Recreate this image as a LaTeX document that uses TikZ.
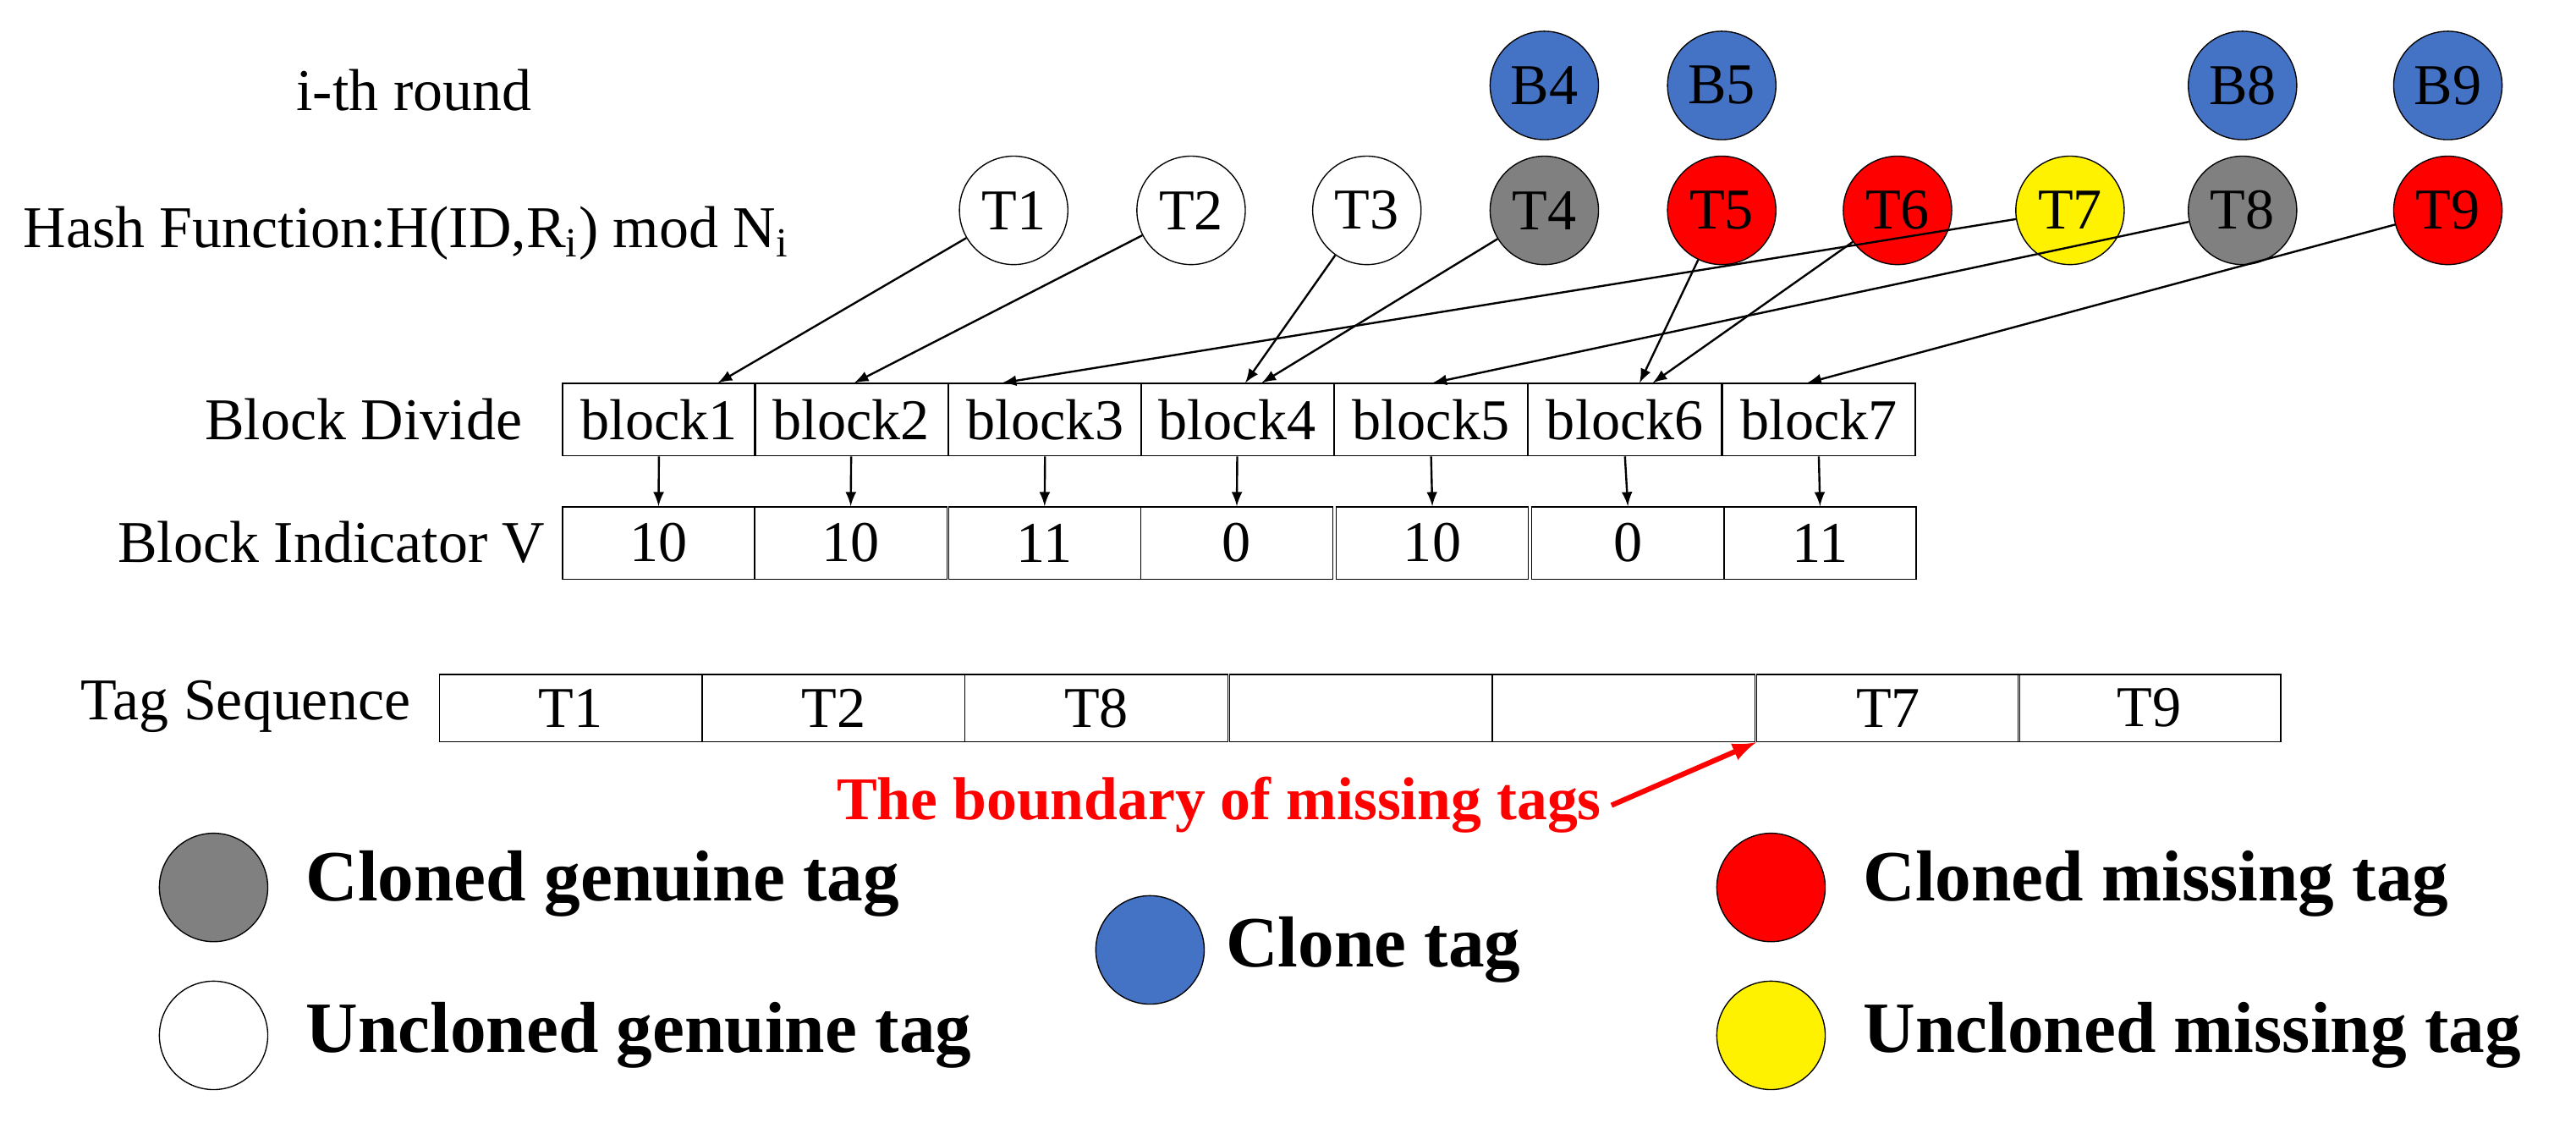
\documentclass[tikz,border=0pt]{standalone}
\usepackage{fontspec}
\setmainfont{Liberation Serif}
\begin{document}
\begin{tikzpicture}[x=0.02cm,y=-0.02cm,
 tag/.style={circle,draw,minimum size=1.32cm,inner sep=0pt,font=\fontsize{20}{22}\selectfont},
 cell/.style={draw,minimum height=0.88cm,inner sep=0pt,font=\fontsize{20}{22}\selectfont},
 lab/.style={font=\fontsize{20.5}{22}\selectfont},
 leg/.style={font=\fontsize{25}{28}\selectfont\bfseries,anchor=west},
 arr/.style={-latex,line width=0.7pt}]
\useasboundingbox (0,0) rectangle (1568,683);
\definecolor{cblue}{RGB}{68,114,196}
\definecolor{cgray}{RGB}{128,128,128}
\node[lab] (lr) at (252,55) {i-th round};
\node[lab,anchor=west] (lh) at (8,142) {Hash Function:H(ID,R\textsubscript{i}) mod N\textsubscript{i}};
\node[lab,anchor=east] (lb) at (324,255) {Block Divide};
\node[lab,anchor=east] (lv) at (338,330) {Block Indicator V};
\node[lab,anchor=east] (ls) at (256,430) {Tag Sequence};
\foreach \n/\x/\c in {B4/940/cblue,B5/1048/cblue,B8/1365/cblue,B9/1490/cblue}
  \node[tag,fill=\c] (\n) at (\x,52) {\n};
\foreach \n/\x/\c in {T1/617/white,T2/725/white,T3/832/white,T4/940/cgray,T5/1048/red,T6/1155/red,T7/1260/yellow,T8/1365/cgray,T9/1490/red}
  \node[tag,fill=\c] (\n) at (\x,128) {\n};
\foreach \i/\x in {1/342,2/459,3/577,4/694,5/812,6/930,7/1048}{
  \node[cell,anchor=north west,minimum width=2.35cm] (b\i) at (\x,233) {block\i};
}
\foreach \i/\x/\v in {1/342/10,2/459/10,3/577/11,4/694/0,5/813/10,6/932/0,7/1049/11}{
  \node[cell,anchor=north west,minimum width=2.34cm] (v\i) at (\x,308) {\v};
  \draw[arr] (b\i.south) -- (v\i.north);
}
\foreach \i/\x/\t in {1/267/T1,2/427/T2,3/587/T8,4/748/,5/908/,6/1069/T7,7/1228/T9}
  \node[cell,anchor=north west,minimum width=3.2cm,minimum height=0.82cm] (s\i) at (\x,410) {\t};
\coordinate (e1) at (437,233); \coordinate (e2) at (520,233);
\coordinate (e3) at (610,233); \coordinate (e4a) at (758,233); \coordinate (e4b) at (768,233);
\coordinate (e5) at (872,233); \coordinate (e6a) at (998,233); \coordinate (e6b) at (1006,233);
\coordinate (e7) at (1100,233);
\draw[arr] (T1) -- (e1); \draw[arr] (T2) -- (e2);
\draw[arr] (T3) -- (e4a); \draw[arr] (T4) -- (e4b);
\draw[arr] (T7) -- (e3); \draw[arr] (T8) -- (e5);
\draw[arr] (T5) -- (e6a); \draw[arr] (T6) -- (e6b);
\draw[arr] (T9) -- (e7);
\node[font=\fontsize{21}{23}\selectfont\bfseries,text=red] (bd) at (742,490) {The boundary of missing tags};
\draw[-latex,red,line width=1.8pt] (bd.east) -- (s6.south west);
\node[tag,fill=cgray] (g1) at (130,540) {}; \node[leg] (g1t) at (180,538) {Cloned genuine tag};
\node[tag,fill=white] (g2) at (130,630) {}; \node[leg] (g2t) at (180,630) {Uncloned genuine tag};
\node[tag,fill=cblue] (g3) at (700,578) {}; \node[leg] (g3t) at (740,578) {Clone tag};
\node[tag,fill=red] (g4) at (1078,540) {}; \node[leg] (g4t) at (1128,538) {Cloned missing tag};
\node[tag,fill=yellow] (g5) at (1078,630) {}; \node[leg] (g5t) at (1128,630) {Uncloned missing tag};
\end{tikzpicture}
\end{document}
